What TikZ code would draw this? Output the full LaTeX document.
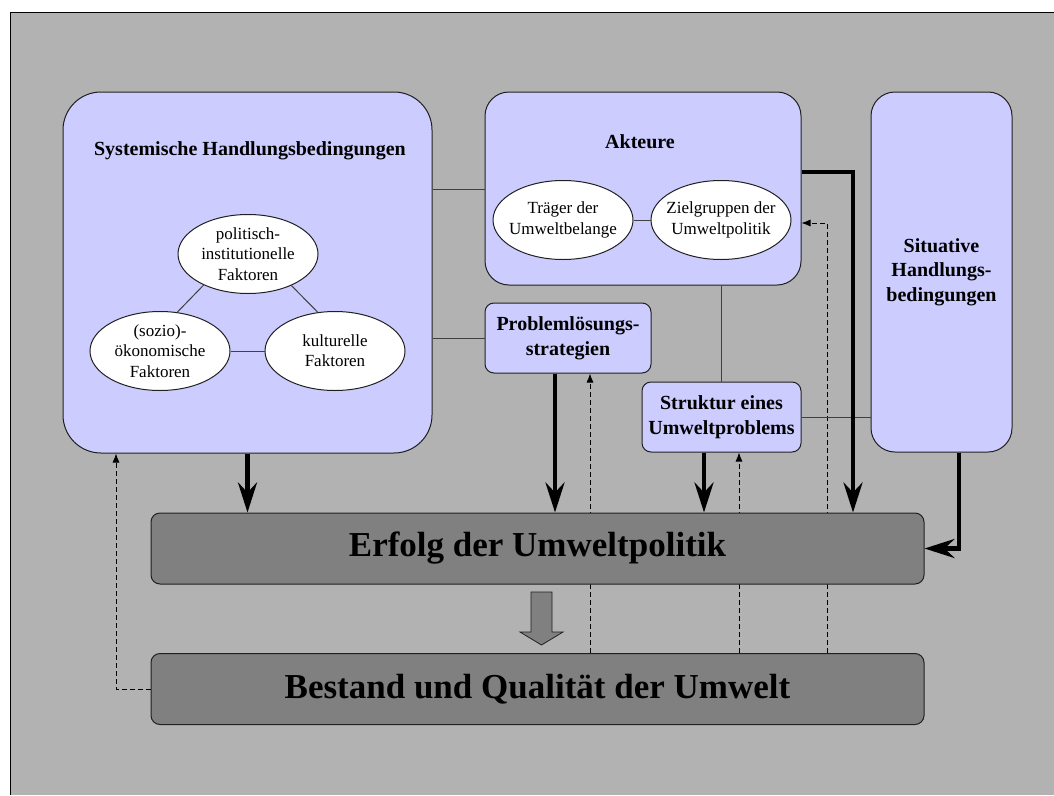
\documentclass[tikz,border=0pt]{standalone}
\usepackage{fontspec}
\setmainfont{Liberation Serif}
\usetikzlibrary{arrows.meta,shapes.geometric,calc}
\pgfdeclarelayer{bg}
\pgfdeclarelayer{mid}
\pgfsetlayers{bg,mid,main}
\definecolor{bggray}{HTML}{B2B2B2}
\definecolor{lav}{HTML}{CCCCFF}
\definecolor{darkbox}{HTML}{808080}
\definecolor{edge}{HTML}{202020}
\begin{document}
\begin{tikzpicture}[x=1pt,y=-1pt,
  lbox/.style={draw=edge, line width=1pt, fill=lav, inner sep=0pt, align=center},
  dbox/.style={draw=edge, line width=1pt, fill=darkbox, inner sep=0pt, rounded corners=9pt,
               minimum width=773pt, minimum height=71pt, font=\fontsize{35}{40}\selectfont\bfseries},
  ttl/.style={font=\fontsize{20}{24.5}\selectfont\bfseries, align=center, inner sep=0pt},
  ell/.style={draw=edge, line width=1pt, fill=white, ellipse, inner sep=0pt,
              minimum width=140pt, minimum height=79pt},
  lbl/.style={font=\fontsize{17}{20.3}\selectfont, align=center, inner sep=0pt},
  conn/.style={draw=black!75, line width=1pt},
  thk/.style={line width=4.5pt, line join=miter, -{Stealth[length=30pt,width=19pt,inset=10pt]}},
  dsh/.style={line width=0.8pt, dash pattern=on 5pt off 3pt, -{Latex[length=9pt,width=7pt]}}
]
\useasboundingbox (0,0) rectangle (1054,795);
\begin{pgfonlayer}{bg}
  \fill[white] (0,0) rectangle (1054,795);
  \fill[bggray] (10,12) rectangle (1054,795);
  \draw[line width=1pt] (10,795) -- (10,12) -- (1054,12);
\end{pgfonlayer}

% helper coordinates
\coordinate (x116) at (116,0);
\coordinate (x555) at (555,0);
\coordinate (x590) at (590,0);
\coordinate (x704) at (704,0);
\coordinate (x739) at (739,0);
\coordinate (x827) at (827,0);
\coordinate (x853) at (853,0);
\coordinate (x959) at (959,0);
\coordinate (y189) at (0,189);
\coordinate (y172) at (0,172);
\coordinate (y223) at (0,223);

% boxes
\node[lbox, rounded corners=38pt, minimum width=369pt, minimum height=361pt] (sys) at (247.5,272.5) {};
\node[ttl] (systitle) at (250,151) {Systemische Handlungsbedingungen};
\node[lbox, rounded corners=24pt, minimum width=316pt, minimum height=193pt] (akt) at (643,188.5) {};
\node[ttl] (akttitle) at (640,142) {Akteure};
\node[lbox, rounded corners=9pt, minimum width=166pt, minimum height=70pt,
      font=\fontsize{20}{25}\selectfont\bfseries] (prob) at (568,338) {Problemlösungs-\\strategien};
\node[lbox, rounded corners=9pt, minimum width=159pt, minimum height=70pt,
      font=\fontsize{20}{25}\selectfont\bfseries] (str) at (721.5,417) {Struktur eines\\Umweltproblems};
\node[lbox, rounded corners=24pt, minimum width=141pt, minimum height=360pt,
      font=\fontsize{20}{24.5}\selectfont\bfseries] (sit) at (941.5,272) {Situative\\Handlungs-\\bedingungen};
\node[dbox] (erf) at (537.5,548.5) {Erfolg der Umweltpolitik};
\node[dbox] (bes) at (537.5,689) {Bestand und Qualität der Umwelt};

% ellipses
\node[ell, label={[lbl]center:{politisch-\\institutionelle\\Faktoren}}] (pol) at (248,254) {};
\node[ell, label={[lbl]center:{(sozio)-\\ökonomische\\Faktoren}}] (soz) at (160,351) {};
\node[ell, label={[lbl]center:{kulturelle\\Faktoren}}] (kul) at (335,351) {};
\node[ell, label={[lbl]center:{Träger der\\Umweltbelange}}] (trg) at (563,220) {};
\node[ell, label={[lbl]center:{Zielgruppen der\\Umweltpolitik}}] (zgr) at (721,220) {};

% thin connectors
\draw[conn] (pol.215) -- (soz.66);
\draw[conn] (pol.324) -- (kul.114);
\draw[conn] (soz) -- (kul);
\draw[conn] (trg) -- (zgr);
\draw[conn] (sys.east |- y189) -- (akt.west |- y189);
\draw[conn] (sys.east |- prob.west) -- (prob.west);
\draw[conn] (akt.south -| str.north) -- (str.north);
\draw[conn] (str.east) -- (sit.west |- str.east);

% thick arrows
\draw[thk] (sys.south) -- (sys.south |- erf.north);
\draw[thk] (x555 |- prob.south) -- (x555 |- erf.north);
\draw[thk] (x704 |- str.south) -- (x704 |- erf.north);
\draw[thk] (akt.east |- y172) -| (x853 |- erf.north);
\draw[thk] (x959 |- sit.south) |- (erf.east);

% feedback (dashed) arrows
\begin{pgfonlayer}{mid}
  \draw[dsh] (bes.west) -| (x116 |- sys.south);
  \draw[dsh] (x590 |- bes.north) -- (x590 |- prob.south);
  \draw[dsh] (x739 |- bes.north) -- (x739 |- str.south);
  \draw[dsh] (x827 |- bes.north) |- (akt.east |- y223);
\end{pgfonlayer}

% broad gray arrow
\draw[fill=darkbox, draw=edge, line width=0.8pt]
  (531,592) -- (552,592) -- (552,632) -- (563,632) -- (541.5,645) -- (520,632) -- (531,632) -- cycle;
\end{tikzpicture}
\end{document}
